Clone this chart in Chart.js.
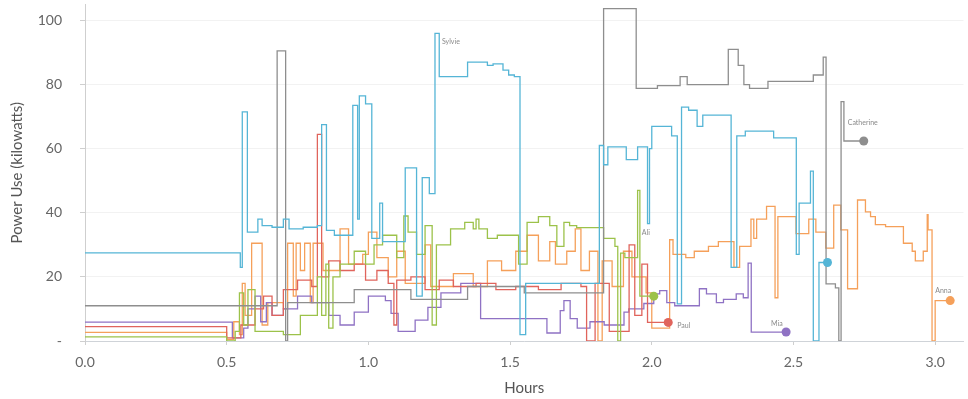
<!DOCTYPE html>
<html>
<head>
<meta charset="utf-8">
<script src="https://cdn.jsdelivr.net/npm/chart.js@4.4.1/dist/chart.umd.min.js"></script>
<style>
  html, body { margin: 0; padding: 0; background: #ffffff; }
  #wrap { width: 968px; height: 399px; position: relative; }
</style>
</head>
<body>
<div id="wrap"><canvas id="c"></canvas></div>
<script>
// ---- data (hours, kilowatts); each value holds until the next time ----
const xTicks = [0.0, 0.5, 1.0, 1.5, 2.0, 2.5, 3.0];
const yTicks = [0, 20, 40, 60, 80, 100];

const blueName = "Sylvie";
const blueX = [0, 0.548, 0.555, 0.573, 0.61, 0.625, 0.66, 0.70, 0.72, 0.77, 0.82, 0.835, 0.852, 0.88, 0.945, 0.962, 0.968, 0.99, 1.012, 1.04, 1.05, 1.13, 1.17, 1.19, 1.215, 1.235, 1.25, 1.35, 1.42, 1.44, 1.475, 1.495, 1.515, 1.535, 1.555, 1.815, 1.83, 1.845, 1.91, 1.95, 1.985, 1.992, 2.0, 2.07, 2.09, 2.105, 2.13, 2.16, 2.18, 2.28, 2.3, 2.33, 2.43, 2.51, 2.52, 2.56, 2.57, 2.59, 2.62];
const blueY = [27.5, 23, 71.5, 34, 38, 36, 35.5, 38, 35, 35.5, 36, 67.5, 34.5, 33, 73.5, 38, 76.5, 74, 32, 43, 31, 54, 14, 51, 46, 96, 82.5, 87, 86, 86.5, 84.5, 83, 82.5, 2, 18, 61, 55, 60.6, 56.6, 60.6, 36.6, 60, 67, 64, 11.6, 73, 72, 67, 70.5, 23, 64, 65.5, 63.4, 27, 43, 53, 0, 24.5, 24.5];

const grayName = "Catherine";
const grayX = [0, 0.678, 0.708, 0.715, 0.95, 1.15, 1.35, 1.55, 1.83, 1.945, 2.02, 2.1, 2.125, 2.27, 2.305, 2.325, 2.345, 2.41, 2.57, 2.605, 2.615, 2.648, 2.66, 2.668, 2.678, 2.748];
const grayY = [11, 90.5, 0, 12, 16, 13, 17, 15, 103.7, 78.8, 79.7, 82.5, 80, 91, 86, 80, 78.8, 81, 83, 88.6, 17.8, 16.6, 0, 74.7, 62.4, 62.4];

const orangeName = "Anna";
const orangeX = [0, 0.5, 0.525, 0.545, 0.555, 0.565, 0.588, 0.625, 0.645, 0.7, 0.715, 0.735, 0.745, 0.76, 0.775, 0.795, 0.805, 0.84, 0.9, 0.93, 0.98, 1.0, 1.03, 1.07, 1.1, 1.13, 1.2, 1.22, 1.3, 1.37, 1.42, 1.47, 1.52, 1.56, 1.6, 1.64, 1.66, 1.7, 1.73, 1.75, 1.78, 1.81, 1.825, 1.86, 1.9, 1.93, 1.98, 2.0, 2.063, 2.075, 2.12, 2.15, 2.2, 2.235, 2.29, 2.31, 2.35, 2.36, 2.37, 2.405, 2.435, 2.445, 2.509, 2.554, 2.579, 2.614, 2.642, 2.667, 2.691, 2.726, 2.754, 2.772, 2.789, 2.825, 2.888, 2.919, 2.93, 2.958, 2.972, 2.975, 2.989, 3.0, 3.053];
const orangeY = [2.7, 0.5, 6, 2, 18, 8, 30.5, 5, 12, 10, 30.5, 14, 30.5, 22, 30.5, 12, 30.5, 22, 35, 24, 27, 34, 26, 20, 28, 18, 30, 17, 21, 17, 25, 22, 28, 33, 25, 31, 24, 28, 35, 22, 28, 0, 25, 17, 28, 20, 15, 4, 31.6, 27, 26, 28, 29.5, 31, 23, 29.5, 38, 32, 38, 42, 13.5, 38.8, 33.5, 38, 34, 29, 42.4, 34.7, 16.3, 44, 40.3, 38.8, 36.3, 35.7, 30.5, 28, 25, 28, 39.4, 34.7, 0, 12.6, 12.6];

const greenName = "Ali";
const greenX = [0, 0.5, 0.53, 0.545, 0.56, 0.575, 0.6, 0.7, 0.76, 0.82, 0.835, 0.85, 0.86, 0.875, 0.9, 0.95, 0.99, 1.02, 1.05, 1.1, 1.125, 1.14, 1.17, 1.2, 1.225, 1.24, 1.29, 1.34, 1.37, 1.38, 1.39, 1.42, 1.455, 1.53, 1.56, 1.6, 1.64, 1.665, 1.69, 1.71, 1.735, 1.83, 1.87, 1.88, 1.89, 1.905, 1.95, 1.958, 2.007];
const greenY = [1.3, 0, 3, 15, 5, 16, 3, 2, 8, 20, 8, 24, 4, 20, 24, 28, 24, 30, 33, 26, 39, 34, 27, 36, 5, 30, 35, 37, 35, 38, 35, 32, 33, 24, 37, 38.8, 36, 29.5, 37, 36, 35.4, 32, 29.5, 0, 27.4, 26, 47, 14, 14];

const redName = "Paul";
const redX = [0, 0.5, 0.55, 0.6, 0.63, 0.66, 0.7, 0.75, 0.8, 0.82, 0.835, 0.86, 0.9, 0.95, 0.99, 1.03, 1.07, 1.09, 1.1, 1.15, 1.2, 1.25, 1.3, 1.38, 1.45, 1.52, 1.6, 1.68, 1.75, 1.77, 1.8, 1.85, 1.92, 1.94, 1.965, 1.985, 2.058];
const redY = [4.5, 1, 5, 10, 14, 8, 16, 19, 17, 64.5, 20, 25, 22, 24, 19, 22, 18, 5, 19, 20, 16, 19, 17, 18, 16, 17, 16, 18, 17, 0, 18, 3, 30, 8, 24, 5.8, 5.8];

const purpleName = "Mia";
const purpleX = [0, 0.52, 0.56, 0.575, 0.6, 0.62, 0.64, 0.66, 0.7, 0.75, 0.8, 0.86, 0.9, 0.95, 1.0, 1.06, 1.08, 1.105, 1.165, 1.21, 1.256, 1.326, 1.396, 1.63, 1.677, 1.69, 1.712, 1.737, 1.782, 1.832, 1.902, 1.919, 1.972, 2.007, 2.028, 2.053, 2.081, 2.168, 2.193, 2.228, 2.253, 2.298, 2.323, 2.34, 2.351, 2.474];
const purpleY = [5.9, 1, 4, 10, 14, 6, 12, 8, 10, 14, 12, 8, 5, 9, 14, 12.6, 8.6, 3, 6.5, 10.5, 15, 18, 7, 2.5, 9.5, 12.6, 7, 4, 6, 5, 9, 10, 11.7, 14.7, 15.7, 12, 11, 16.3, 14.7, 12, 13, 14.7, 13.5, 24.3, 2.8, 2.8];

// ---- chart ----
const FONT = "Lato, 'Open Sans', sans-serif";
function pts(xs, ys) { return xs.map((x, i) => ({ x: x, y: ys[i] })); }
function series(name, xs, ys, color, anchor, dx, dy) {
  const last = xs.length - 1;
  return {
    label: name,
    data: pts(xs, ys),
    borderColor: color,
    backgroundColor: color,
    borderWidth: 1.3,
    stepped: true,
    fill: false,
    pointRadius: (ctx) => ctx.dataIndex === last ? 4.5 : 0,
    pointHoverRadius: 0,
    pointBorderWidth: 0,
    pointBackgroundColor: color,
    endLabel: { anchor: anchor, dx: dx, dy: dy }
  };
}

const labelPlugin = {
  id: 'endLabels',
  afterDatasetsDraw(chart) {
    const ctx = chart.ctx;
    ctx.save();
    ctx.font = "7px " + FONT;
    ctx.fillStyle = '#8a8a8a';
    ctx.textBaseline = 'middle';
    ctx.textAlign = 'left';
    chart.data.datasets.forEach((ds, i) => {
      const meta = chart.getDatasetMeta(i);
      const cfg = ds.endLabel;
      if (!cfg) return;
      let idx = ds.data.length - 1;
      if (cfg.anchor === 'max') {
        let m = -Infinity;
        ds.data.forEach((p, j) => { if (p.y > m) { m = p.y; idx = j; } });
      }
      const el = meta.data[idx];
      ctx.fillText(ds.label, el.x + cfg.dx, el.y + cfg.dy);
    });
    ctx.restore();
  }
};

new Chart(document.getElementById('c'), {
  type: 'line',
  data: {
    datasets: [
      series(blueName, blueX, blueY, '#55b5d6', 'max', 7, 8),
      series(grayName, grayX, grayY, '#8e8e8e', 'end', -16, -18),
      series(greenName, greenX, greenY, '#9cc24a', 'end', -12, -63),
      series(redName, redX, redY, '#e0645c', 'end', 9, 3),
      series(purpleName, purpleX, purpleY, '#8f72c4', 'end', -15, -8),
      series(orangeName, orangeX, orangeY, '#f5a05a', 'end', -15, -10)
    ]
  },
  options: {
    responsive: true,
    maintainAspectRatio: false,
    animation: false,
    devicePixelRatio: 1,
    layout: { padding: 0 },
    plugins: { legend: { display: false }, tooltip: { enabled: false } },
    scales: {
      x: {
        type: 'linear',
        min: 0,
        max: 3.1,
        afterBuildTicks: (s) => { s.ticks = xTicks.map(v => ({ value: v })); },
        afterFit: (s) => { s.height = 58; s.paddingLeft = 0; s.paddingRight = 0; },
        ticks: {
          callback: (v) => Number(v).toFixed(1),
          font: { family: FONT, size: 14 },
          color: '#666',
          padding: 9,
          maxRotation: 0,
          autoSkip: false
        },
        grid: { drawOnChartArea: false, tickLength: 4, color: '#cfcfcf' },
        border: { color: '#cfd3d8' },
        title: { display: true, text: 'Hours', font: { family: FONT, size: 15 }, color: '#555', padding: { top: 0, bottom: 2 } }
      },
      y: {
        min: 0,
        max: 105,
        afterBuildTicks: (s) => { s.ticks = yTicks.map(v => ({ value: v })); },
        afterFit: (s) => { s.width = 85; s.paddingTop = 0; s.paddingBottom = 0; },
        ticks: {
          callback: (v) => v === 0 ? '-' : v,
          font: { family: FONT, size: 14 },
          color: '#666',
          padding: 18
        },
        grid: { color: 'rgba(0,0,0,0.05)', tickColor: '#cfcfcf', tickLength: 5 },
        border: { color: '#cfcfcf' },
        title: { display: true, text: 'Power Use (kilowatts)', font: { family: FONT, size: 15 }, color: '#555', padding: { top: 8, bottom: 0 } }
      }
    }
  },
  plugins: [labelPlugin]
});
</script>
</body>
</html>
